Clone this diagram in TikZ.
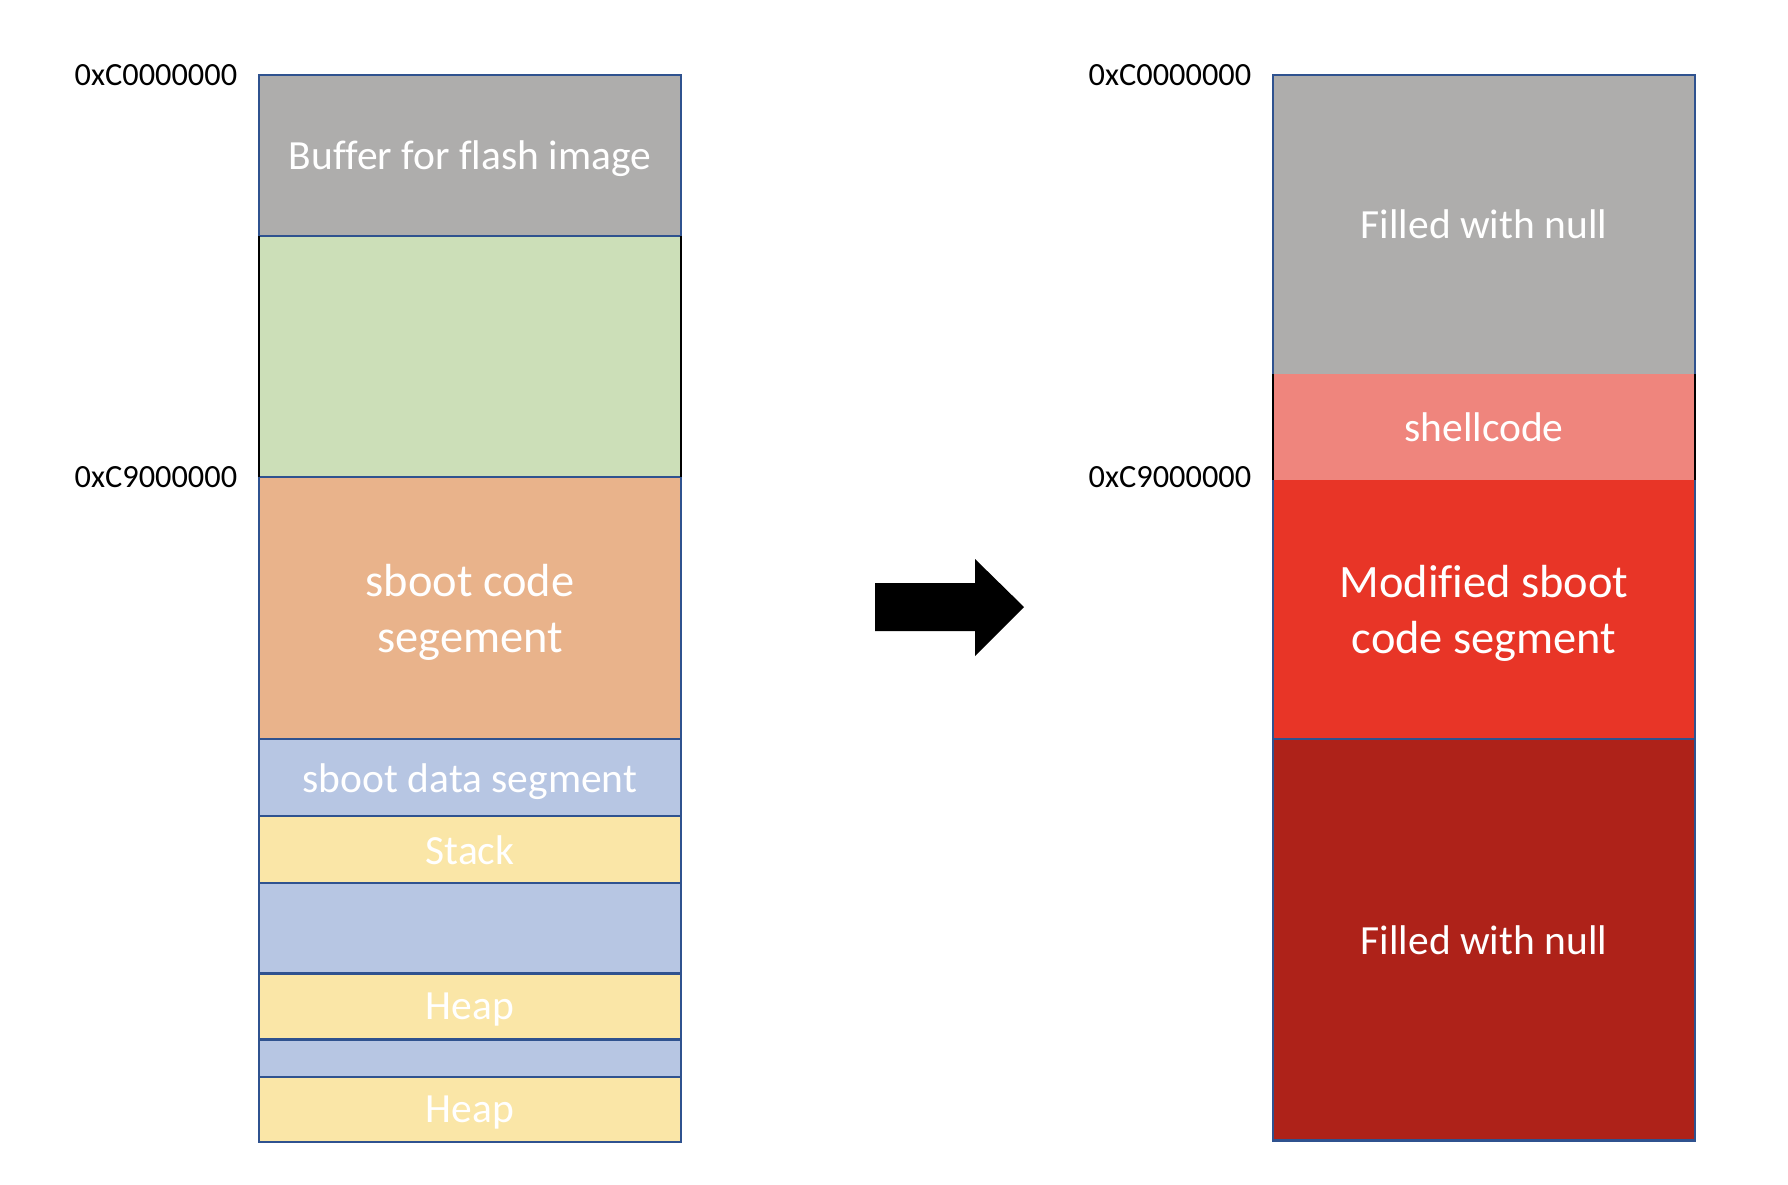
\documentclass[tikz,border=0pt]{standalone}
\usepackage{fontspec}
\setmainfont{Carlito}[Ligatures=NoCommon]
\usetikzlibrary{positioning}

\definecolor{segline}{HTML}{2F528F}
\definecolor{bufgray}{HTML}{AEADAC}
\definecolor{freegreen}{HTML}{CCDFB8}
\definecolor{codeorange}{HTML}{E9B38B}
\definecolor{datablue}{HTML}{B7C6E3}
\definecolor{heapyellow}{HTML}{FAE6A7}
\definecolor{shellpink}{HTML}{EF857D}
\definecolor{modred}{HTML}{E83527}
\definecolor{nullred}{HTML}{AE2219}

\begin{document}
\begin{tikzpicture}[x=0.01cm, y=-0.01cm,
	segfill/.style={rectangle, minimum width=4.22cm, inner sep=0pt, outer sep=0pt, text depth=0pt, text=white, align=center, font=\fontsize{11.8}{14}\selectfont},
	seg/.style={segfill, draw=segline, line width=0.6pt},
	bigtext/.style={font=\fontsize{13.2}{15.9}\selectfont},
	addr/.style={inner sep=0pt, font=\fontsize{9.2}{11}\selectfont}]
				\useasboundingbox (0,0) rectangle (1788,1184);
				
				% memory before
				\node[seg, fill=bufgray, minimum height=1.61cm] (buf) at (470,155.5) {Buffer for flash image};
				\node[seg, fill=freegreen, minimum height=2.41cm, below=0pt of buf] (free) {};
				\node[seg, fill=codeorange, minimum height=2.62cm, below=0pt of free, bigtext] (code) {sboot code\\segement};
				\node[seg, fill=datablue, minimum height=0.77cm, below=0pt of code] (data) {sboot data segment};
				\node[seg, fill=heapyellow, minimum height=0.67cm, below=0pt of data] (stack) {Stack};
				\node[seg, fill=datablue, minimum height=0.90cm, below=0pt of stack] (gapa) {};
				\node[seg, fill=heapyellow, minimum height=0.66cm, below=0pt of gapa] (heapa) {Heap};
				\node[seg, fill=datablue, minimum height=0.37cm, below=0pt of heapa] (gapb) {};
				\node[seg, fill=heapyellow, minimum height=0.65cm, below=0pt of gapb] (heapb) {Heap};
				\draw[line width=0.6pt] (free.north west) -- (free.south west) (free.north east) -- (free.south east);
				
				\node[addr, left=0.21cm of buf.north west] (addrtl) {0xC0000000};
				\node[addr, left=0.21cm of code.north west] (addrml) {0xC9000000};
				
				% memory after
				\node[segfill, fill=bufgray, minimum height=2.99cm] (nulla) at (1484,224.5) {Filled with null};
				\node[segfill, fill=shellpink, minimum height=1.06cm, below=0pt of nulla] (shell) {shellcode};
				\node[segfill, fill=modred, minimum height=2.59cm, below=0pt of shell, bigtext] (mod) {Modified sboot\\code segment};
				\node[segfill, fill=nullred, minimum height=4.01cm, below=0pt of mod] (nullb) {Filled with null};
				\draw[segline, line width=0.6pt] (nulla.north west) rectangle (nullb.south east);
				\draw[segline, line width=0.6pt] (nullb.north west) -- (nullb.north east);
				\draw[line width=0.6pt] (shell.north west) -- (shell.south west) (shell.north east) -- (shell.south east);
				
				\node[addr, left=0.21cm of nulla.north west] (addrtr) {0xC0000000};
				\node[addr, left=0.21cm of mod.north west, yshift=0.03cm] (addrmr) {0xC9000000};
				
				% big arrow
				\fill (875,583) -- (975,583) -- (975,559) -- (1024,607) -- (975,656) -- (975,631) -- (875,631) -- cycle;
			\end{tikzpicture}
\end{document}
